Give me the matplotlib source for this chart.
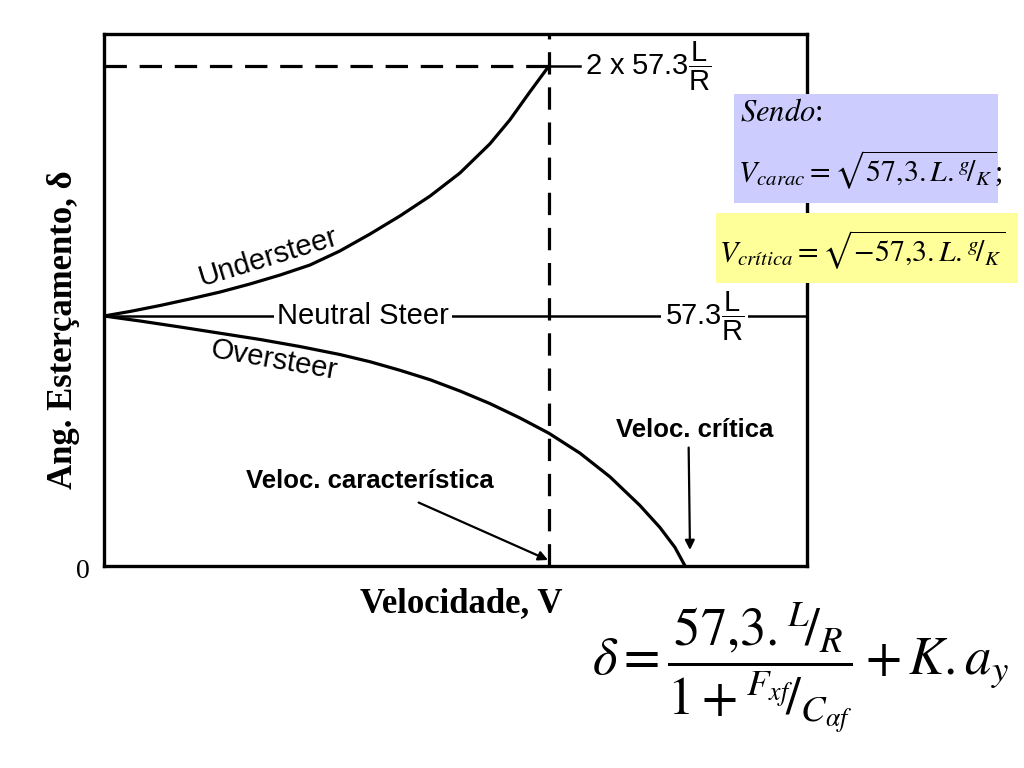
import matplotlib
matplotlib.use('Agg')
import matplotlib.pyplot as plt
from matplotlib.patches import Rectangle

# velocity normalised to V_carac = 1, steer angle in units of 57.3 L/R
v_under = [0.0, 0.058, 0.126, 0.193, 0.261, 0.328, 0.396, 0.463, 0.530, 0.598, 0.665,
           0.733, 0.800, 0.867, 0.912, 0.957, 1.0]
d_under = [1.0, 1.018, 1.042, 1.068, 1.096, 1.128, 1.164, 1.204, 1.26, 1.328, 1.4,
           1.48, 1.572, 1.688, 1.784, 1.896, 2.0]
v_over = [0.0, 0.081, 0.171, 0.261, 0.351, 0.440, 0.530, 0.598, 0.665, 0.733, 0.800,
          0.867, 0.935, 1.0, 1.070, 1.137, 1.204, 1.249, 1.283, 1.306]
d_over = [1.0, 0.98, 0.956, 0.931, 0.906, 0.878, 0.846, 0.817, 0.783, 0.745, 0.700,
          0.650, 0.592, 0.531, 0.451, 0.357, 0.243, 0.155, 0.075, 0.0]
v_neutral = [0.0, 1.58]
d_neutral = [1.0, 1.0]
v_carac = 1.0
v_critica = 1.306
d_top = 2.0

plt.rcParams['font.family'] = ['Liberation Sans', 'DejaVu Sans']
plt.rcParams['mathtext.fontset'] = 'custom'
plt.rcParams['mathtext.rm'] = 'Liberation Sans'
plt.rcParams['mathtext.it'] = 'Liberation Sans'
plt.rcParams['mathtext.bf'] = 'Liberation Sans'

fig = plt.figure(figsize=(10.24, 7.68), dpi=100)
ax = fig.add_axes([104 / 1024, 1 - 566 / 768, 703 / 1024, 532 / 768])
ax.set_xlim(0, 1.58)
ax.set_ylim(0, 2.128)
ax.set_xticks([])
ax.set_yticks([])
for sp in ax.spines.values():
    sp.set_linewidth(2.4)

lw = 2.3
ax.plot(v_under, d_under, color='black', lw=lw, solid_joinstyle='round')
ax.plot(v_over, d_over, color='black', lw=lw, solid_joinstyle='round')
ax.plot(v_neutral, d_neutral, color='black', lw=1.8)
ax.plot([0, v_carac], [d_top, d_top], color='black', lw=lw, dashes=(7, 4))
ax.plot([v_carac, 1.07], [d_top, d_top], color='black', lw=1.8)
ax.axvline(v_carac, color='black', lw=lw, dashes=(7, 4))

lab = dict(fontsize=21, color='black')
ax.text(0.369, 1.236, 'Understeer', rotation=17, ha='center', va='center', rotation_mode='anchor', **lab)
ax.text(0.582, 1.0, 'Neutral Steer', ha='center', va='center',
        bbox=dict(facecolor='white', edgecolor='none', pad=2), **lab)
ax.text(0.382, 0.824, 'Oversteer', rotation=-10, ha='center', va='center', rotation_mode='anchor', **lab)
ax.text(1.081, 2.0, r'2 x 57.3$\dfrac{\mathrm{L}}{\mathrm{R}}$', ha='left', va='center', **lab)
ax.text(1.261, 1.0, r'57.3$\dfrac{\mathrm{L}}{\mathrm{R}}$', ha='left', va='center',
        bbox=dict(facecolor='white', edgecolor='none', pad=3), **lab)

bold = dict(fontsize=18.5, fontweight='bold', family=['Liberation Sans Narrow', 'Liberation Sans'])
ax.annotate('Veloc. característica', xy=(0.998, 0.024), xytext=(0.598, 0.34),
            ha='center', va='center', **bold,
            arrowprops=dict(arrowstyle='-|>', color='black', lw=1.6, mutation_scale=14,
                            shrinkA=12, shrinkB=0))
ax.annotate('Veloc. crítica', xy=(1.317, 0.064), xytext=(1.328, 0.544),
            ha='center', va='center', **bold,
            arrowprops=dict(arrowstyle='-|>', color='black', lw=1.6, mutation_scale=14,
                            shrinkA=2, shrinkB=0, relpos=(0.46, 0)))

serif = ['Liberation Serif', 'DejaVu Serif']
fig.text(83 / 1024, 1 - 572 / 768, '0', family=serif, fontsize=20, ha='center', va='center')
fig.text(461 / 1024, 1 - 604 / 768, 'Velocidade, V', family=serif, fontsize=25,
         fontweight='bold', ha='center', va='center')
fig.text(64 / 1024, 1 - 330 / 768, 'Ang. Esterçamento, δ', family=serif, fontsize=25,
         fontweight='bold', rotation=90, ha='center', va='center')

# formula boxes
fig.add_artist(Rectangle((734 / 1024, 1 - 203 / 768), 264 / 1024, 109 / 768,
                         facecolor='#ccccff', edgecolor='none', zorder=3))
fig.add_artist(Rectangle((716 / 1024, 1 - 283 / 768), 302 / 1024, 70 / 768,
                         facecolor='#ffff99', edgecolor='none', zorder=3))
fig.text(740 / 1024, 1 - 113 / 768, r'$\mathit{Sendo}$:', family=serif, fontsize=22,
         math_fontfamily='stix', ha='left', va='center', zorder=4)
fig.text(738 / 1024, 1 - 170 / 768, r'$V_{carac} = \sqrt{57{,}3.L.{}^{g}\!/_{K}}$;', family=serif,
         fontsize=21.5, math_fontfamily='stix', ha='left', va='center', zorder=4)
fig.text(719 / 1024, 1 - 250 / 768, r'$V_{\mathit{crítica}} = \sqrt{-57{,}3.L.{}^{g}\!/_{K}}$',
         family=serif, fontsize=21.5, math_fontfamily='stix', ha='left', va='center', zorder=4)

fig.text(800 / 1024, 1 - 668 / 768,
         r'$\delta = \dfrac{57{,}3.{}^{L}\!/_{R}}{1+{}^{F_{xf}}\!/_{C_{\alpha f}}} + K.a_y$',
         fontsize=38, math_fontfamily='stix', ha='center', va='center')

fig.savefig('out.png', dpi=100)
